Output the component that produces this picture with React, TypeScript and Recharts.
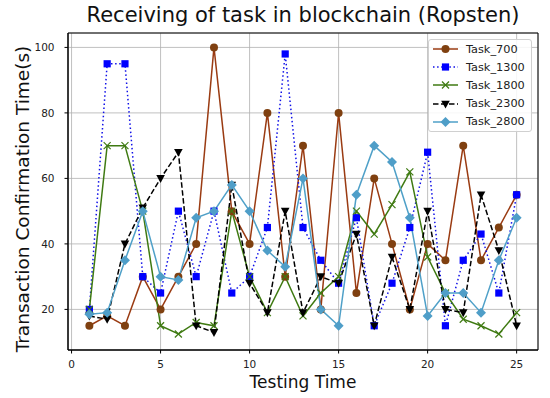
import React from "react";
import {
  LineChart,
  Line,
  XAxis,
  YAxis,
  CartesianGrid,
  ReferenceArea,
} from "recharts";

const FONT = "'DejaVu Sans', sans-serif";

const TESTING_TIMES = [1, 2, 3, 4, 5, 6, 7, 8, 9, 10, 11, 12, 13, 14, 15, 16, 17, 18, 19, 20, 21, 22, 23, 24, 25];
const TASK_700 = [15, 18, 15, 30, 20, 30, 40, 100, 50, 40, 80, 30, 70, 20, 80, 25, 60, 40, 20, 40, 35, 70, 35, 45, 55];
const TASK_1300 = [20, 95, 95, 30, 25, 50, 30, 50, 25, 30, 45, 98, 45, 35, 28, 48, 15, 28, 45, 68, 15, 35, 43, 25, 55];
const TASK_1800 = [20, 70, 70, 50, 15, 12.5, 16, 15, 50, 30, 19, 30, 18, 25, 30, 50, 43, 52, 62, 36, 25, 17, 15, 12.5, 19];
const TASK_2300 = [18, 17, 40, 51, 60, 68, 15, 13, 58, 28, 19, 50, 19, 30, 28, 43, 15, 36, 20, 50, 20, 19, 55, 38, 15];
const TASK_2800 = [18.5, 19, 35, 50, 30, 29, 48, 50, 58, 50, 38, 33, 60, 20, 15, 55, 70, 65, 48, 18, 25, 25, 19, 35, 48];

const X_TICKS = [0, 5, 10, 15, 20, 25];
const Y_TICKS = [20, 40, 60, 80, 100];

const data = TESTING_TIMES.map((t, i) => ({
  t,
  task700: TASK_700[i],
  task1300: TASK_1300[i],
  task1800: TASK_1800[i],
  task2300: TASK_2300[i],
  task2800: TASK_2800[i],
}));

type Marker = "circle" | "square" | "x" | "tri" | "diamond";

const SERIES: { key: string; name: string; color: string; markerColor: string; dash?: string; marker: Marker }[] = [
  { key: "task700", name: "Task_700", color: "#9a3b12", markerColor: "#7f4010", marker: "circle" },
  { key: "task1300", name: "Task_1300", color: "#1010e8", markerColor: "#0000ff", dash: "1.5 2.6", marker: "square" },
  { key: "task1800", name: "Task_1800", color: "#3f7a12", markerColor: "#3f7a12", marker: "x" },
  { key: "task2300", name: "Task_2300", color: "#000000", markerColor: "#000000", dash: "5.5 2.5", marker: "tri" },
  { key: "task2800", name: "Task_2800", color: "#4fa0c8", markerColor: "#4f9ec8", marker: "diamond" },
];

function drawMarker(marker: Marker, color: string, cx: number, cy: number, key?: string) {
  switch (marker) {
    case "circle":
      return <circle key={key} cx={cx} cy={cy} r={4} fill={color} />;
    case "square":
      return <rect key={key} x={cx - 3.6} y={cy - 3.6} width={7.2} height={7.2} fill={color} />;
    case "x":
      return (
        <g key={key} stroke={color} strokeWidth={1.2}>
          <line x1={cx - 3.5} y1={cy - 3.5} x2={cx + 3.5} y2={cy + 3.5} />
          <line x1={cx - 3.5} y1={cy + 3.5} x2={cx + 3.5} y2={cy - 3.5} />
        </g>
      );
    case "tri":
      return (
        <polygon
          key={key}
          points={`${cx - 4.3},${cy - 3.3} ${cx + 4.3},${cy - 3.3} ${cx},${cy + 4.6}`}
          fill={color}
        />
      );
    case "diamond":
      return (
        <polygon
          key={key}
          points={`${cx},${cy - 5} ${cx + 5},${cy} ${cx},${cy + 5} ${cx - 5},${cy}`}
          fill={color}
        />
      );
  }
}

function makeDot(marker: Marker, color: string) {
  return (props: any) => {
    const { cx, cy, index, dataKey } = props;
    if (cx == null || cy == null) return <g key={`${dataKey}-${index}`} />;
    return drawMarker(marker, color, cx, cy, `${dataKey}-${index}`);
  };
}

function LegendBox() {
  return (
    <div
      style={{
        position: "absolute",
        left: 428,
        top: 39,
        width: 104,
        boxSizing: "border-box",
        border: "1px solid #d0d0d0",
        borderRadius: 3,
        background: "rgba(255,255,255,0.85)",
        padding: "0px 4px 0px 3px",
        fontFamily: FONT,
        fontSize: 11.3,
        color: "#222",
      }}
    >
      {SERIES.map((s) => (
        <div key={s.key} style={{ display: "flex", alignItems: "center", height: 18.2 }}>
          <svg width={28} height={12} style={{ marginRight: 6 }}>
            <line
              x1={1}
              y1={6}
              x2={26}
              y2={6}
              stroke={s.color}
              strokeWidth={1.5}
              strokeDasharray={s.dash}
            />
            {drawMarker(s.marker, s.markerColor, 13.5, 6)}
          </svg>
          <span>{s.name}</span>
        </div>
      ))}
    </div>
  );
}

export default function App() {
  return (
    <div style={{ position: "absolute", left: 0, top: 0, width: 550, height: 398, background: "#fff" }}>
      <LineChart
        width={550}
        height={398}
        data={data}
        margin={{ top: 33, right: 12, bottom: 0, left: 0 }}
        style={{ position: "absolute", left: 0, top: 0 }}
      >
        <CartesianGrid stroke="#b0b0b0" strokeWidth={0.8} />
        <XAxis
          dataKey="t"
          type="number"
          domain={[-0.2, 26.2]}
          ticks={X_TICKS}
          height={48}
          tickSize={3.5}
          tickMargin={7}
          stroke="#000"
          tick={{ fill: "#222", fontSize: 10.5, fontFamily: FONT }}
          allowDataOverflow
        />
        <YAxis
          type="number"
          domain={[7.6, 104.4]}
          ticks={Y_TICKS}
          width={68}
          tickSize={3.5}
          tickMargin={10}
          stroke="#000"
          tick={{ fill: "#222", fontSize: 10.5, fontFamily: FONT }}
          allowDataOverflow
        />
        <ReferenceArea
          x1={-0.2}
          x2={26.2}
          y1={7.6}
          y2={104.4}
          fill="none"
          stroke="#000"
          strokeWidth={1}
          ifOverflow="visible"
        />
        {SERIES.map((s) => (
          <Line
            key={s.key}
            dataKey={s.key}
            name={s.name}
            type="linear"
            stroke={s.color}
            strokeWidth={1.5}
            strokeDasharray={s.dash}
            dot={makeDot(s.marker, s.markerColor)}
            activeDot={false}
            isAnimationActive={false}
          />
        ))}
      </LineChart>
      <LegendBox />
      <div
        style={{
          position: "absolute",
          left: 0,
          width: 606,
          top: 3,
          textAlign: "center",
          fontFamily: FONT,
          fontSize: 21,
          color: "#111",
          whiteSpace: "nowrap",
        }}
      >
        Receiving of task in blockchain (Ropsten)
      </div>
      <div
        style={{
          position: "absolute",
          left: 0,
          width: 606,
          top: 372,
          textAlign: "center",
          fontFamily: FONT,
          fontSize: 17,
          color: "#111",
          whiteSpace: "nowrap",
        }}
      >
        Testing Time
      </div>
      <div
        style={{
          position: "absolute",
          left: 22,
          top: 199,
          transform: "translate(-50%, -50%) rotate(-90deg)",
          fontFamily: FONT,
          fontSize: 18.5,
          color: "#111",
          whiteSpace: "nowrap",
        }}
      >
        Transaction Confirmation Time(s)
      </div>
    </div>
  );
}
